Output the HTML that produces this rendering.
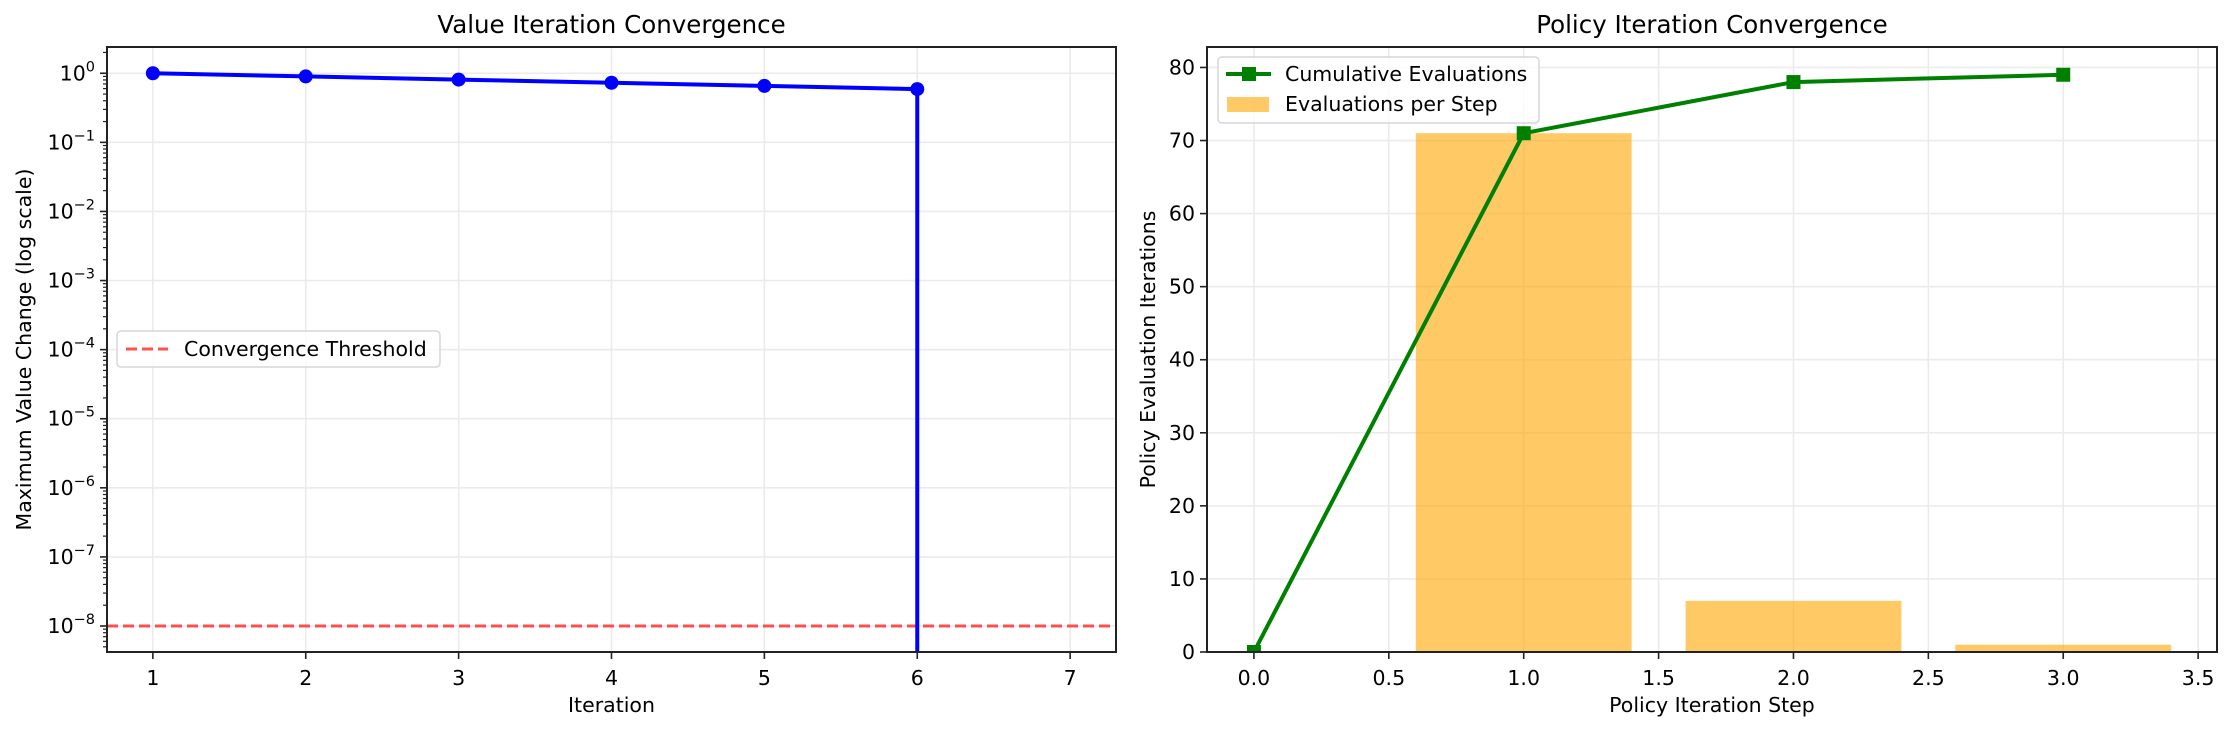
<!DOCTYPE html>
<html><head><meta charset="utf-8"><style>
body{margin:0;background:#fff;}
svg text{font-family:"DejaVu Sans","Liberation Sans",sans-serif;fill:#000;}
</style></head><body>
<svg id="fig" xmlns="http://www.w3.org/2000/svg" width="2231" height="731" viewBox="0 0 2231 731"></svg>
<script>
// Left chart data
const viIterations = [1, 2, 3, 4, 5, 6, 6];
const viValues = [1.0, 0.9, 0.81, 0.729, 0.6561, 0.59049, 0];
const viThreshold = 1e-8;
const viXTicks = [1, 2, 3, 4, 5, 6, 7];
const viYTickExps = [0, -1, -2, -3, -4, -5, -6, -7, -8];
// Right chart data
const piSteps = [0, 1, 2, 3];
const piCumulative = [0, 71, 78, 79];
const piBarSteps = [1, 2, 3];
const piBarValues = [71, 7, 1];
const piXTicks = [0.0, 0.5, 1.0, 1.5, 2.0, 2.5, 3.0, 3.5];
const piYTicks = [0, 10, 20, 30, 40, 50, 60, 70, 80];

const NS = 'http://www.w3.org/2000/svg';
const fig = document.getElementById('fig');
function mk(tag, attrs, parent, text){
  const e = document.createElementNS(NS, tag);
  for (const k in attrs) e.setAttribute(k, attrs[k]);
  if (text !== undefined) e.textContent = text;
  (parent || fig).appendChild(e);
  return e;
}
const FS = 20.5;

// ---------- LEFT ----------
const L = {x0:107, x1:1116, y0:47, y1:652, xmin:0.7, xmax:7.3, lmin:-8.376, lmax:0.38};
const lx = v => L.x0 + (v - L.xmin) / (L.xmax - L.xmin) * (L.x1 - L.x0);
const ly = v => { if (v <= 0) return L.y1 + 5; const l = Math.log10(v); return L.y1 - (l - L.lmin) / (L.lmax - L.lmin) * (L.y1 - L.y0); };
const lg = mk('g', {});  
mk('defs', {}, fig).innerHTML = '<clipPath id="clipL"><rect x="107" y="47" width="1009" height="605"/></clipPath><clipPath id="clipR"><rect x="1207" y="47" width="1010" height="605"/></clipPath>';
// grid
viXTicks.forEach(t => { const g = mk('line', {x1:lx(t), x2:lx(t), y1:L.y0, y2:L.y1, stroke:'#ebebeb', 'stroke-width':1.6}, lg);   });
viYTickExps.forEach(e => { const g = mk('line', {x1:L.x0, x2:L.x1, y1:ly(Math.pow(10,e)), y2:ly(Math.pow(10,e)), stroke:'#ebebeb', 'stroke-width':1.6}, lg);   });
// threshold
const th = mk('line', {x1:L.x0, x2:L.x1, y1:ly(viThreshold), y2:ly(viThreshold), stroke:'#ff3333', 'stroke-opacity':0.85, 'stroke-width':3, 'stroke-dasharray':'11 5'}, lg);
 
// series
let d = viIterations.map((x,i)=>(i?'L':'M')+lx(x)+' '+ly(viValues[i])).join(' ');
const vl = mk('path', {d:d, fill:'none', stroke:'#0000ff', 'stroke-width':4, 'clip-path':'url(#clipL)'}, lg);
 
viIterations.forEach((x,i) => { if (viValues[i] > 0) { const c = mk('circle', {cx:lx(x), cy:ly(viValues[i]), r:7, fill:'#0000ff'}, lg);   } });
// spines
const ls = mk('rect', {x:L.x0, y:L.y0, width:L.x1-L.x0, height:L.y1-L.y0, fill:'none', stroke:'#222', 'stroke-width':2}, lg);
 
// ticks
viXTicks.forEach(t => { mk('line',{x1:lx(t),x2:lx(t),y1:L.y1,y2:L.y1+7,stroke:'#222','stroke-width':1.6},lg); const tx = mk('text',{x:lx(t),y:L.y1+33,'text-anchor':'middle','font-size':FS},lg,String(t));   });
for (let e = -9; e <= 0; e++) for (let m = 2; m <= 9; m++) { const y = ly(m*Math.pow(10,e)); if (y >= L.y0 && y <= L.y1) mk('line',{x1:L.x0-4,x2:L.x0,y1:y,y2:y,stroke:'#222','stroke-width':1.2},lg); }
viYTickExps.forEach(e => { const y = ly(Math.pow(10,e)); mk('line',{x1:L.x0-7,x2:L.x0,y1:y,y2:y,stroke:'#222','stroke-width':1.6},lg);
  const tx = mk('text',{x:L.x0-12,y:y+7,'text-anchor':'end','font-size':FS},lg);  
  mk('tspan',{},tx,'10'); mk('tspan',{dy:-9,'font-size':14.5},tx, e===0?'0':'\u2212'+(-e)); });
const t1 = mk('text',{x:(L.x0+L.x1)/2,y:33,'text-anchor':'middle','font-size':24.5},lg,'Value Iteration Convergence');  
const xl1 = mk('text',{x:(L.x0+L.x1)/2,y:712,'text-anchor':'middle','font-size':FS},lg,'Iteration');  
const yl1 = mk('text',{x:0,y:0,'text-anchor':'middle','font-size':FS,transform:'translate(31,'+((L.y0+L.y1)/2)+') rotate(-90)'},lg,'Maximum Value Change (log scale)');  
// legend
const lleg = mk('g',{},lg);  
mk('rect',{x:117,y:331,width:323,height:36,rx:4,fill:'#fff','fill-opacity':0.8,stroke:'#d6d6d6','stroke-width':1.5},lleg);
mk('line',{x1:126,x2:168,y1:349,y2:349,stroke:'#ff3333','stroke-opacity':0.85,'stroke-width':3,'stroke-dasharray':'11 5'},lleg);
const le1 = mk('text',{x:184,y:356,'font-size':FS},lleg,'Convergence Threshold');  

// ---------- RIGHT ----------
const R = {x0:1207, x1:2217, y0:47, y1:652, xmin:-0.174, xmax:3.57, ymin:0, ymax:82.8};
const rx = v => R.x0 + (v - R.xmin)/(R.xmax - R.xmin)*(R.x1 - R.x0);
const ry = v => R.y1 - (v - R.ymin)/(R.ymax - R.ymin)*(R.y1 - R.y0);
const rg = mk('g',{});  
piXTicks.forEach(t => { const g = mk('line',{x1:rx(t),x2:rx(t),y1:R.y0,y2:R.y1,stroke:'#ebebeb','stroke-width':1.6},rg);   });
piYTicks.forEach(t => { const g = mk('line',{x1:R.x0,x2:R.x1,y1:ry(t),y2:ry(t),stroke:'#ebebeb','stroke-width':1.6},rg);   });
piBarSteps.forEach((s,i) => { const b = mk('rect',{x:rx(s-0.4),y:ry(piBarValues[i]),width:rx(s+0.4)-rx(s-0.4),height:ry(0)-ry(piBarValues[i]),fill:'#ffa500','fill-opacity':0.6},rg);   });
d = piSteps.map((s,i)=>(i?'L':'M')+rx(s)+' '+ry(piCumulative[i])).join(' ');
const cl = mk('path',{d:d,fill:'none',stroke:'#008000','stroke-width':4},rg);  
piSteps.forEach((s,i)=>{ const m = mk('rect',{x:rx(s)-7,y:ry(piCumulative[i])-7,width:14,height:14,fill:'#008000','clip-path':'url(#clipR)'},rg);   });
const rs = mk('rect',{x:R.x0,y:R.y0,width:R.x1-R.x0,height:R.y1-R.y0,fill:'none',stroke:'#222','stroke-width':2},rg);  
piXTicks.forEach(t => { mk('line',{x1:rx(t),x2:rx(t),y1:R.y1,y2:R.y1+7,stroke:'#222','stroke-width':1.6},rg); const tx = mk('text',{x:rx(t),y:R.y1+33,'text-anchor':'middle','font-size':FS},rg,t.toFixed(1));   });
piYTicks.forEach(t => { mk('line',{x1:R.x0-7,x2:R.x0,y1:ry(t),y2:ry(t),stroke:'#222','stroke-width':1.6},rg); const tx = mk('text',{x:R.x0-12,y:ry(t)+7,'text-anchor':'end','font-size':FS},rg,String(t));   });
const t2 = mk('text',{x:(R.x0+R.x1)/2,y:33,'text-anchor':'middle','font-size':24.5},rg,'Policy Iteration Convergence');  
const xl2 = mk('text',{x:(R.x0+R.x1)/2,y:712,'text-anchor':'middle','font-size':FS},rg,'Policy Iteration Step');  
const yl2 = mk('text',{x:0,y:0,'text-anchor':'middle','font-size':FS,transform:'translate(1155,'+((R.y0+R.y1)/2)+') rotate(-90)'},rg,'Policy Evaluation Iterations');  
const rleg = mk('g',{},rg);  
mk('rect',{x:1218,y:57,width:321,height:66,rx:4,fill:'#fff','fill-opacity':0.8,stroke:'#d6d6d6','stroke-width':1.5},rleg);
mk('line',{x1:1226,x2:1271,y1:74,y2:74,stroke:'#008000','stroke-width':4},rleg);
mk('rect',{x:1242,y:67,width:14,height:14,fill:'#008000'},rleg);
mk('rect',{x:1227,y:97,width:42,height:15,fill:'#ffa500','fill-opacity':0.6},rleg);
const re1 = mk('text',{x:1285,y:81,'font-size':FS},rleg,'Cumulative Evaluations');  
const re2 = mk('text',{x:1285,y:111,'font-size':FS},rleg,'Evaluations per Step');  
</script>
</body></html>
